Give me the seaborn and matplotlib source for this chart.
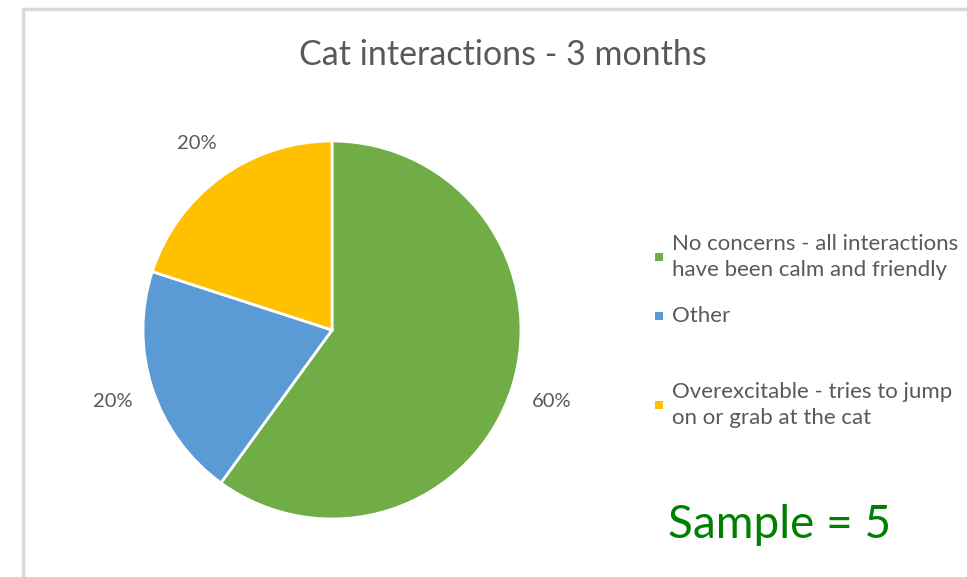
import matplotlib.pyplot as plt
import matplotlib.patches as mpatches
import seaborn as sns

# ----------------- data -----------------
categories = [
    "No concerns - all interactions\nhave been calm and friendly",
    "Other",
    "Overexcitable - tries to jump\non or grab at the cat",
]
shares = [60, 20, 20]
colors = ["#70AD47", "#5B9BD5", "#FFC000"]
title = "Cat interactions - 3 months"
sample_note = "Sample = 5"

sns.set_theme(style="white")
plt.rcParams["font.family"] = ["Lato", "DejaVu Sans"]

W, H = 967, 577
fig = plt.figure(figsize=(W / 100, H / 100), dpi=100)

# pie centred at (332, 330) px, radius ~189 px
cx, cy, r = 332, 330, 189
ax = fig.add_axes([(cx - r) / W, (H - cy - r) / H, 2 * r / W, 2 * r / H])
wedges, texts, autotexts = ax.pie(
    shares, colors=colors, startangle=90, counterclock=False,
    autopct="%1.0f%%", pctdistance=1.22,
    wedgeprops=dict(edgecolor="white", linewidth=2),
    textprops=dict(color="#595959", fontsize=14.5),
)
ax.set_xlim(-1, 1)
ax.set_ylim(-1, 1)
ax.set_aspect("equal")

# chart border (only left and top edges visible)
fig.add_artist(mpatches.Rectangle((23 / W, -0.1), 1.2, (H - 9) / H + 0.1,
                                  transform=fig.transFigure, fill=False,
                                  edgecolor="#D9D9D9", linewidth=2.5))

fig.text(503 / W, 1 - 55 / H, title, ha="center", va="center",
         fontsize=24.5, color="#595959")

# legend on the right
legend_y = [257, 316, 405]
for lab, col, y in zip(categories, colors, legend_y):
    fig.add_artist(mpatches.Rectangle((655 / W, 1 - (y + 4) / H), 8 / W, 8 / H,
                                      transform=fig.transFigure,
                                      facecolor=col, edgecolor="none"))
    fig.text(672 / W, 1 - y / H, lab, ha="left", va="center",
             fontsize=16, color="#595959", linespacing=1.38)

fig.text(668 / W, 1 - 525 / H, sample_note, ha="left", va="center",
         fontsize=33, color="#008000")

fig.savefig("out.png", dpi=100, facecolor="white")
